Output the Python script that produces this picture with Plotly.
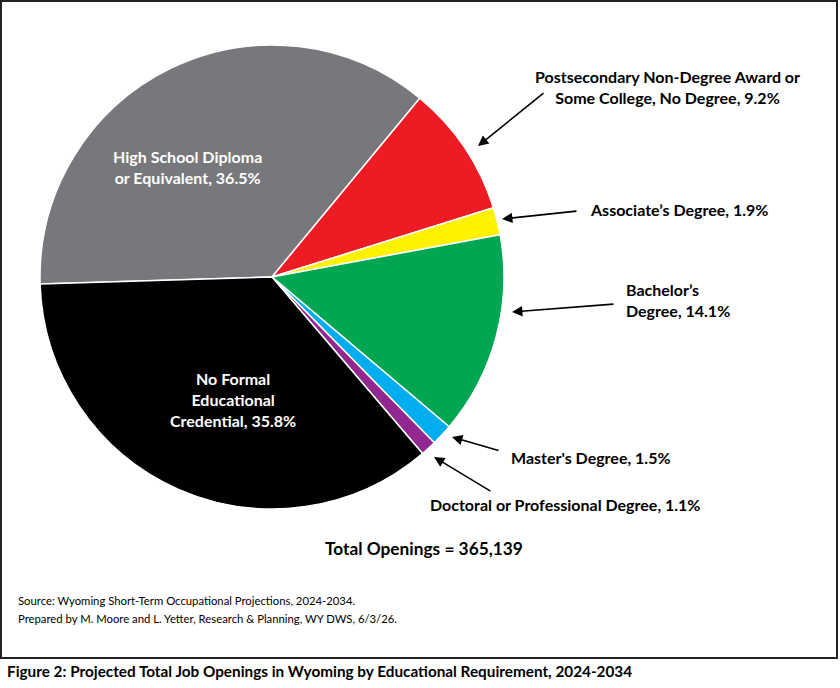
import plotly.graph_objects as go

categories = [
    "High School Diploma or Equivalent",
    "Postsecondary Non-Degree Award or Some College, No Degree",
    "Associate's Degree",
    "Bachelor's Degree",
    "Master's Degree",
    "Doctoral or Professional Degree",
    "No Formal Educational Credential",
]
shares = [36.5, 9.2, 1.9, 14.1, 1.5, 1.1, 35.8]
colors = ["#77787B", "#ED1C24", "#FFF200", "#00A651", "#00AEEF", "#92278F", "#000000"]

W, H = 840, 688
def px(x):
    return x / W
def py(y):
    return 1 - y / H

FONT = "Lato"
LBL = 16

fig = go.Figure(go.Pie(
    labels=categories,
    values=shares,
    sort=False,
    direction="clockwise",
    rotation=-91.7,
    marker=dict(colors=colors, line=dict(color="white", width=1.5)),
    textinfo="none",
    hoverinfo="label+percent",
    showlegend=False,
    domain=dict(x=[px(40), px(504)], y=[py(509), py(45)]),
))

ann = []
# inside labels
ann.append(dict(x=px(187), y=py(167), xanchor="center", text="High School Diploma<br>or Equivalent, 36.5%",
                font=dict(family=FONT, size=LBL, color="white", weight="bold")))
ann.append(dict(x=px(233), y=py(399), xanchor="center", text="No Formal<br>Educational<br>Credential, 35.8%",
                font=dict(family=FONT, size=LBL, color="white", weight="bold")))
# outside labels
ann.append(dict(x=px(667), y=py(87), xanchor="center", text="Postsecondary Non-Degree Award or<br>Some College, No Degree, 9.2%",
                font=dict(family=FONT, size=LBL, color="black", weight="bold")))
ann.append(dict(x=px(588), y=py(209), xanchor="left", text="Associate’s Degree, 1.9%",
                font=dict(family=FONT, size=LBL, color="black", weight="bold")))
ann.append(dict(x=px(624), y=py(300), xanchor="left", text="Bachelor’s<br>Degree, 14.1%", align="left",
                font=dict(family=FONT, size=LBL, color="black", weight="bold")))
ann.append(dict(x=px(509), y=py(457), xanchor="left", text="Master's Degree, 1.5%",
                font=dict(family=FONT, size=LBL, color="black", weight="bold")))
ann.append(dict(x=px(428), y=py(504), xanchor="left", text="Doctoral or Professional Degree, 1.1%",
                font=dict(family=FONT, size=LBL, color="black", weight="bold")))
ann.append(dict(x=px(424), y=py(548), xanchor="center", text="Total Openings = 365,139",
                font=dict(family=FONT, size=17.3, color="black", weight="bold")))
ann.append(dict(x=px(16), y=py(600), xanchor="left",
                text="Source: Wyoming Short-Term Occupational Projections, 2024-2034.",
                font=dict(family=FONT, size=11.3, color="black")))
ann.append(dict(x=px(16), y=py(618), xanchor="left",
                text="Prepared by M. Moore and L. Yetter, Research &amp; Planning, WY DWS, 6/3/26.",
                font=dict(family=FONT, size=11.3, color="black")))
ann.append(dict(x=px(5), y=py(671), xanchor="left",
                text="Figure 2: Projected Total Job Openings in Wyoming by Educational Requirement, 2024-2034",
                font=dict(family=FONT, size=15.3, color="black", weight="bold")))

for a in ann:
    a.update(xref="paper", yref="paper", yanchor="middle", showarrow=False)

# arrows: (head_x, head_y, tail_x, tail_y) in pixels
arrows = [
    (478, 146, 545, 92),
    (502, 219, 578, 211),
    (512, 312, 615, 304),
    (452, 437, 500, 451),
    (434, 457, 492, 492),
]
for hx, hy, tx, ty in arrows:
    ann.append(dict(x=px(hx), y=py(hy), xref="paper", yref="paper", text="",
                    showarrow=True, arrowhead=2, arrowsize=1.3, arrowwidth=1.6,
                    arrowcolor="black", ax=tx - hx, ay=ty - hy, standoff=0))

fig.update_layout(
    width=W, height=H,
    margin=dict(l=0, r=0, t=0, b=0),
    paper_bgcolor="white",
    plot_bgcolor="white",
    annotations=ann,
    shapes=[dict(type="rect", xref="paper", yref="paper",
                 x0=px(1), x1=px(837), y0=py(658), y1=py(1),
                 line=dict(color="#222222", width=2))],
)

fig.write_html("out.html", config={"displayModeBar": False},
               post_script="document.body.style.margin='0';document.body.style.overflow='hidden';")
